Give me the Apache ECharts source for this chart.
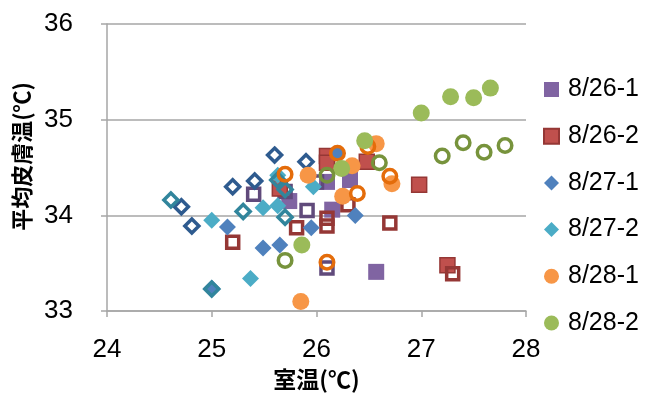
<!DOCTYPE html>
<html>
<head>
<meta charset="utf-8">
<script src="https://cdn.jsdelivr.net/npm/echarts@6/dist/echarts.min.js"></script>
<style>
  html, body { margin: 0; padding: 0; background: #fff; }
  #chart { width: 657px; height: 396px; }
</style>
</head>
<body>
<div id="chart"></div>
<script>
// Room temperature (x) vs mean skin temperature (y), per session
const seriesNames = ['8/26-1', '8/26-2', '8/27-1', '8/27-2', '8/28-1', '8/28-2'];

// filled markers / hollow markers for each session, [room temp, skin temp]
const s0826_1_filled = [[26.57, 33.41], [25.74, 34.15], [26.32, 34.37], [26.15, 34.06], [26.10, 34.35]];
const s0826_1_hollow = [[25.40, 34.22], [26.00, 34.35], [25.91, 34.05], [26.10, 33.45], [25.70, 34.25]];
const s0826_2_filled = [[27.25, 33.48], [26.98, 34.32], [26.48, 34.56], [26.10, 34.62], [26.10, 34.55], [25.65, 34.28]];
const s0826_2_hollow = [[25.20, 33.72], [27.30, 33.39], [26.70, 33.92], [26.30, 34.11], [25.81, 33.87], [26.10, 33.97], [26.10, 33.89]];
const s0827_1_filled = [[25.00, 33.24], [25.49, 33.66], [25.65, 33.69], [25.15, 33.88], [26.37, 34.00], [25.95, 33.87], [26.20, 34.65]];
const s0827_1_hollow = [[25.60, 34.63], [25.90, 34.56], [25.41, 34.36], [25.20, 34.30], [24.71, 34.09], [24.81, 33.89]];
const s0827_2_filled = [[25.00, 33.95], [25.37, 33.34], [25.49, 34.08], [25.63, 34.10], [25.63, 34.42], [25.97, 34.30]];
const s0827_2_hollow = [[24.61, 34.16], [25.30, 34.04], [25.70, 33.98], [25.63, 34.37], [25.70, 34.27], [25.00, 33.23]];
const s0828_1_filled = [[25.85, 33.10], [26.57, 34.75], [26.34, 34.52], [25.92, 34.42], [26.72, 34.33], [26.25, 34.20]];
const s0828_1_hollow = [[25.70, 34.43], [26.20, 34.65], [26.49, 34.72], [26.70, 34.41], [26.39, 34.23], [26.10, 33.51]];
const s0828_2_filled = [[27.00, 35.07], [27.28, 35.24], [27.50, 35.23], [27.66, 35.33], [26.46, 34.78], [26.24, 34.49], [25.86, 33.69]];
const s0828_2_hollow = [[27.20, 34.62], [27.40, 34.76], [27.60, 34.66], [27.80, 34.73], [26.60, 34.55], [26.10, 34.42], [25.70, 33.53]];

const xTicks = [24, 25, 26, 27, 28];
const yTicks = [33, 34, 35, 36];

const groups = [
  { filled: s0826_1_filled, hollow: s0826_1_hollow, symbol: 'rect', size: 16, ringSize: 12, fill: '#8064A2', line: '#8064A2', lineW: 0, ring: '#604A7B' },
  { filled: s0826_2_filled, hollow: s0826_2_hollow, symbol: 'rect', size: 15, ringSize: 12, fill: '#C0504D', line: '#953735', lineW: 1.5, ring: '#953735' },
  { filled: s0827_1_filled, hollow: s0827_1_hollow, symbol: 'diamond', size: 17, ringSize: 14, fill: '#4F81BD', line: '#4F81BD', lineW: 0, ring: '#2E5B8F' },
  { filled: s0827_2_filled, hollow: s0827_2_hollow, symbol: 'diamond', size: 17, ringSize: 14, fill: '#4BACC6', line: '#4BACC6', lineW: 0, ring: '#31859C' },
  { filled: s0828_1_filled, hollow: s0828_1_hollow, symbol: 'circle', size: 17, ringSize: 13.5, fill: '#F79646', line: '#F79646', lineW: 0, ring: '#E46C0A' },
  { filled: s0828_2_filled, hollow: s0828_2_hollow, symbol: 'circle', size: 17, ringSize: 13.5, fill: '#9BBB59', line: '#9BBB59', lineW: 0, ring: '#77933C' }
];

const series = groups.map((g, i) => {
  const data = g.filled.map(p => ({ value: p }))
    .concat(g.hollow.map(p => ({
      value: p,
      symbolSize: g.ringSize,
      itemStyle: { color: '#ffffff00', borderColor: g.ring, borderWidth: 3.5 }
    })));
  return {
    name: seriesNames[i],
    type: 'scatter',
    symbol: g.symbol,
    symbolSize: g.size,
    itemStyle: { color: g.fill, borderColor: g.line, borderWidth: g.lineW, opacity: 1 },
    emphasis: { disabled: true },
    data: data
  };
});

const chart = echarts.init(document.getElementById('chart'), null, { renderer: 'canvas' });
chart.setOption({
  animation: false,
  textStyle: { fontFamily: 'Liberation Sans' },
  grid: { left: 107, top: 24, width: 419, height: 290, containLabel: false },
  legend: {
    orient: 'vertical',
    left: 538,
    top: 72,
    itemWidth: 15,
    itemHeight: 15,
    itemGap: 21.7,
    textStyle: { fontSize: 25, color: '#000', fontFamily: 'Liberation Sans', padding: [0, 0, 0, 4] },
    data: seriesNames
  },
  xAxis: {
    type: 'value',
    min: xTicks[0],
    max: xTicks[xTicks.length - 1],
    interval: 1,
    name: '室温(℃)',
    nameLocation: 'middle',
    nameGap: 56,
    nameTextStyle: { fontSize: 23, fontWeight: 'bold', color: '#000', fontFamily: 'Noto Sans CJK JP' },
    axisLine: { show: true, lineStyle: { color: '#A6A6A6', width: 1.5 } },
    axisTick: { show: true, length: 6, lineStyle: { color: '#A6A6A6', width: 1.5 } },
    axisLabel: { fontSize: 26, color: '#000', margin: 26 },
    splitLine: { show: false }
  },
  yAxis: {
    type: 'value',
    min: yTicks[0],
    max: yTicks[yTicks.length - 1],
    interval: 1,
    name: '平均皮膚温(℃)',
    nameLocation: 'middle',
    nameGap: 74,
    nameRotate: 90,
    nameTextStyle: { fontSize: 22, fontWeight: 'bold', color: '#000', fontFamily: 'Noto Sans CJK JP', padding: [0, 0, 0, 22] },
    axisLine: { show: true, lineStyle: { color: '#A6A6A6', width: 1.5 } },
    axisTick: { show: true, length: 6, lineStyle: { color: '#A6A6A6', width: 1.5 } },
    axisLabel: { fontSize: 26, color: '#000', margin: 34 },
    splitLine: { show: true, lineStyle: { color: '#A6A6A6', width: 1.5 } }
  },
  series: series
});
</script>
</body>
</html>
